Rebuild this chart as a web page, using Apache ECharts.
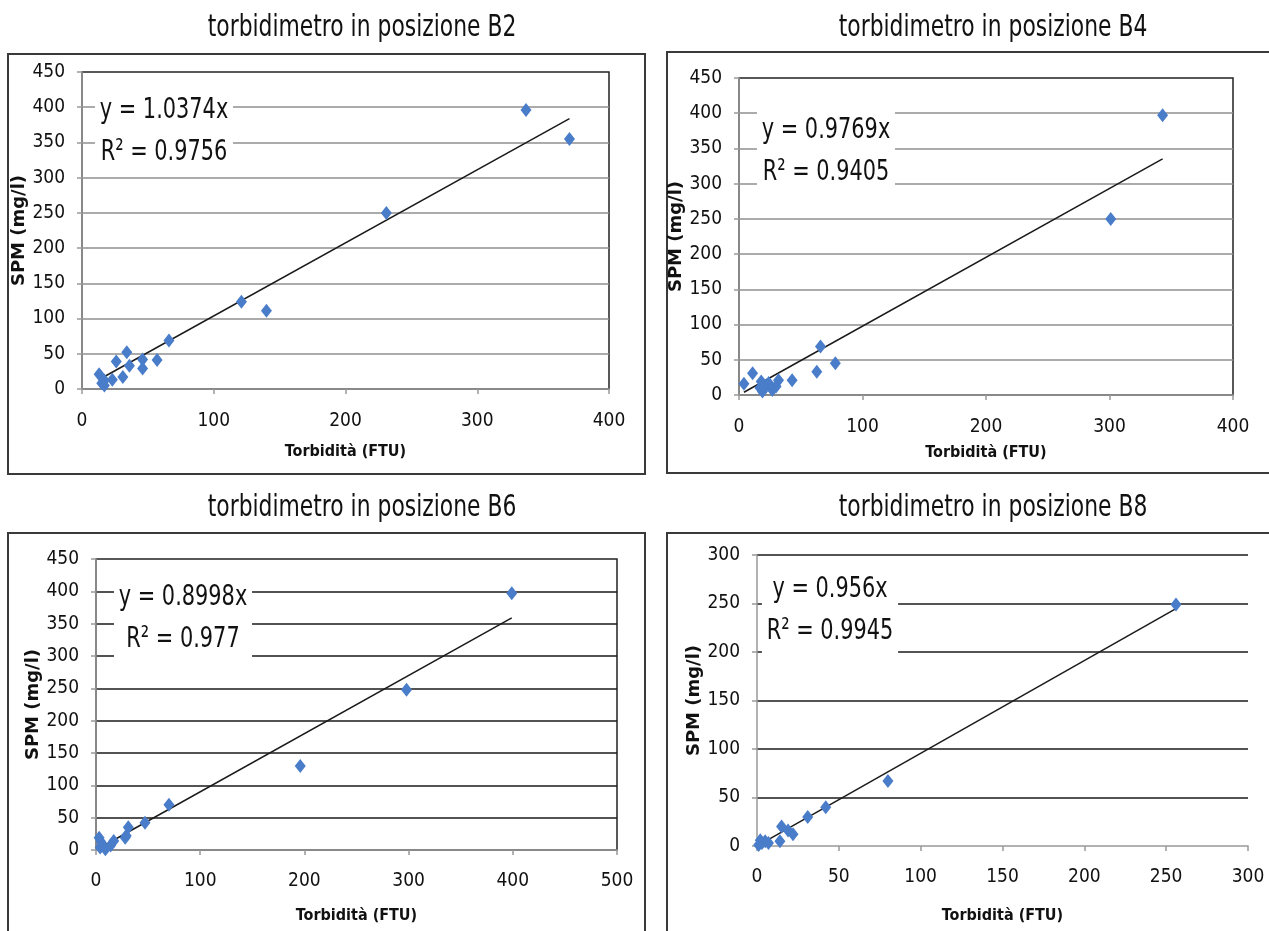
<!DOCTYPE html>
<html>
<head>
<meta charset="utf-8">
<script src="https://cdn.jsdelivr.net/npm/echarts@6/dist/echarts.min.js"></script>
<style>
html, body { margin: 0; padding: 0; background: #fff; }
#main { width: 1269px; height: 931px; }
</style>
</head>
<body>
<div id="main"></div>
<script>
// titoli dei quattro grafici
var titles = ['torbidimetro in posizione B2', 'torbidimetro in posizione B4',
	'torbidimetro in posizione B6', 'torbidimetro in posizione B8'];

// B2
var b2Torb = [13, 15, 17, 17, 23, 26, 31, 34, 36, 46, 46, 57, 66, 121, 140, 231, 337, 370];
var b2Spm = [21, 8, 12, 5, 13, 39, 17, 52, 33, 42, 29, 41, 69, 124, 111, 250, 396, 355];
// B4
var b4Torb = [4, 11, 17, 18, 19, 22, 24, 27, 30, 32, 43, 63, 66, 78, 301, 343];
var b4Spm = [16, 31, 10, 19, 5, 13, 17, 7, 12, 21, 21, 33, 69, 45, 250, 397];
// B6
var b6Torb = [3, 4, 5, 9, 14, 17, 28, 29, 31, 47, 70, 196, 298, 399];
var b6Spm = [19, 4, 12, 1, 7, 14, 19, 22, 35, 42, 70, 130, 248, 397];
// B8
var b8Torb = [1, 2, 3, 5, 7, 14, 15, 19, 22, 31, 42, 80, 256];
var b8Spm = [1, 6, 3, 5, 3, 5, 20, 16, 12, 30, 40, 67, 249];

// linee di tendenza (y = a x) e R2
var slopes = [1.0374, 0.9769, 0.8998, 0.956];
var r2 = [0.9756, 0.9405, 0.977, 0.9945];

// assi
var xMax = [400, 400, 500, 300];
var xStep = [100, 100, 100, 50];
var yMax = [450, 450, 450, 300];
var yStep = [50, 50, 50, 50];

var xName = 'Torbidità (FTU)';
var yName = 'SPM (mg/l)';

var torb = [b2Torb, b4Torb, b6Torb, b8Torb];
var spm = [b2Spm, b4Spm, b6Spm, b8Spm];

var narrow = '"DejaVu Sans Condensed", "DejaVu Sans", sans-serif';

// posizioni (pixel)
var panels = [
	{ grid: [82, 72, 527, 317], frame: [8, 54, 637, 420], title: [362, 28], eq: [164, 131], split: '#8f8f8f', border: true, xGap: 55, xMargin: 23, yGap: 47 },
	{ grid: [739, 78, 494, 317], frame: [667, 52, 640, 421], title: [993, 28], eq: [826, 151], split: '#8f8f8f', border: true, xGap: 50, xMargin: 23, yGap: 47 },
	{ grid: [96, 559, 521, 291], frame: [8, 533, 637, 420], title: [362, 508], eq: [183, 618], split: '#1a1a1a', border: true, xGap: 58, xMargin: 22, yGap: 50 },
	{ grid: [757, 555, 491, 291], frame: [667, 533, 640, 420], title: [993, 508], eq: [830, 610], split: '#1a1a1a', border: false, xGap: 62, xMargin: 22, yGap: 51 }
];

var grids = [], xAxes = [], yAxes = [], series = [], graphic = [];

panels.forEach(function (p, i) {
	graphic.push({
		type: 'rect', z: -10, silent: true,
		shape: { x: p.frame[0], y: p.frame[1], width: p.frame[2], height: p.frame[3] },
		style: { fill: 'none', stroke: '#3a3a3a', lineWidth: 2 }
	});
	// testo stretto come il Calibri dell'originale
	graphic.push({
		type: 'text', z: 10, silent: true,
		x: p.title[0], y: p.title[1], scaleX: 0.81,
		style: { text: titles[i], font: '30px ' + narrow, fill: '#111', align: 'center', verticalAlign: 'middle' }
	});
	graphic.push({
		type: 'text', z: 10, silent: true,
		x: p.eq[0], y: p.eq[1], scaleX: 0.8,
		style: {
			text: 'y = ' + slopes[i] + 'x\nR² = ' + r2[i],
			font: '29px ' + narrow, fill: '#111', align: 'center', verticalAlign: 'middle',
			lineHeight: 42, backgroundColor: '#fff', padding: [2, 6]
		}
	});

	grids.push({
		left: p.grid[0], top: p.grid[1], width: p.grid[2], height: p.grid[3],
		show: p.border, borderColor: '#222', borderWidth: 1.5, backgroundColor: 'transparent',
		outerBoundsMode: 'none'
	});

	xAxes.push({
		gridIndex: i, type: 'value', min: 0, max: xMax[i], interval: xStep[i],
		name: xName, nameLocation: 'middle', nameGap: p.xGap,
		nameTextStyle: { fontFamily: narrow, fontWeight: 'bold', fontSize: 16, color: '#111' },
		axisLine: { show: true, lineStyle: { color: '#999', width: 1.5 } },
		axisTick: { show: true, length: 5, lineStyle: { color: '#999', width: 1.5 } },
		axisLabel: { margin: p.xMargin, fontSize: 19, fontFamily: narrow, color: '#111' },
		splitLine: { show: false }
	});

	yAxes.push({
		gridIndex: i, type: 'value', min: 0, max: yMax[i], interval: yStep[i],
		name: yName, nameLocation: 'middle', nameGap: p.yGap,
		nameTextStyle: { fontFamily: '"DejaVu Sans", sans-serif', fontWeight: 'bold', fontSize: 18, color: '#111' },
		axisLine: { show: true, lineStyle: { color: '#999', width: 1.5 } },
		axisTick: { show: true, length: 5, lineStyle: { color: '#999', width: 1.5 } },
		axisLabel: { margin: 17, fontSize: 19, fontFamily: narrow, color: '#111' },
		splitLine: { show: true, showMinLine: false, showMaxLine: !p.border, lineStyle: { color: p.split, width: 1.5 } }
	});

	var pts = torb[i].map(function (x, k) { return [x, spm[i][k]]; });
	var x0 = Math.min.apply(null, torb[i]);
	var x1 = Math.max.apply(null, torb[i]);

	series.push({
		type: 'line', xAxisIndex: i, yAxisIndex: i, silent: true, z: 3,
		showSymbol: false, symbol: 'none', animation: false,
		data: [[x0, slopes[i] * x0], [x1, slopes[i] * x1]],
		lineStyle: { color: '#1a1a1a', width: 1.5 }
	});
	series.push({
		type: 'scatter', xAxisIndex: i, yAxisIndex: i, z: 4,
		symbol: 'diamond', symbolSize: [11, 14], animation: false,
		data: pts,
		itemStyle: { color: '#4a7dc9', opacity: 1 }
	});
});

var myChart = echarts.init(document.getElementById('main'));
myChart.setOption({
	backgroundColor: '#fff',
	animation: false,
	grid: grids,
	xAxis: xAxes,
	yAxis: yAxes,
	series: series,
	graphic: graphic
});
</script>
</body>
</html>
